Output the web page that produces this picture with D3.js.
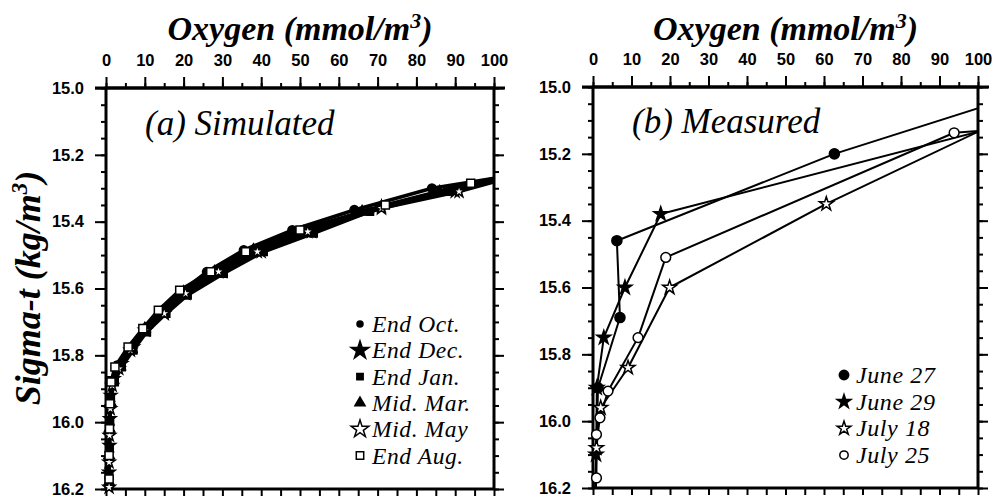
<!DOCTYPE html>
<html>
<head>
<meta charset="utf-8">
<script src="https://cdn.jsdelivr.net/npm/d3@7"></script>
<style>
  html, body { margin: 0; padding: 0; background: #fff; }
  svg { display: block; }
  .serif { font-family: 'Liberation Serif', 'Times New Roman', Times, serif; }
  .sans { font-family: 'Liberation Sans', Arial, Helvetica, sans-serif; }
</style>
</head>
<body>
<div id="chart"></div>
<script>
// ---- data (oxygen mmol/m3, sigma-t kg/m3) ----
const oxygenTicks = [0, 10, 20, 30, 40, 50, 60, 70, 80, 90, 100];
const sigmaTicks = [15.0, 15.2, 15.4, 15.6, 15.8, 16.0, 16.2];

// (a) simulated profiles
const simNames = ['End Oct.', 'End Dec.', 'End Jan.', 'Mid. Mar.', 'Mid. May', 'End Aug.'];
const endOct = [[108, 15.255], [84, 15.30], [64, 15.365], [48, 15.425], [35.5, 15.485], [26, 15.55], [19.3, 15.61], [14, 15.67], [9.8, 15.72], [6, 15.78], [3, 15.83], [1.5, 15.88], [1, 15.95], [0.9, 16.03], [0.8, 16.11], [0.8, 16.19]];
const endDec = [[108, 15.255], [90, 15.31], [71, 15.355], [53, 15.43], [40, 15.49], [30, 15.55], [20.5, 15.615], [15, 15.675], [10.3, 15.725], [7, 15.775], [4, 15.825], [2, 15.87], [1.2, 15.92], [1, 15.99], [0.9, 16.07], [0.8, 16.15]];
const endJan = [[108, 15.258], [88, 15.31], [68, 15.37], [53.5, 15.435], [40.6, 15.49], [30.3, 15.555], [21, 15.62], [15.5, 15.675], [10.5, 15.73], [7, 15.785], [4, 15.835], [2.2, 15.88], [1.2, 15.93], [1, 16.0], [0.9, 16.08], [0.8, 16.16]];
const midMar = [[108, 15.256], [86, 15.31], [66, 15.37], [51, 15.43], [38, 15.485], [28, 15.55], [20, 15.61], [14.5, 15.67], [10, 15.72], [6.5, 15.78], [3.5, 15.83], [1.8, 15.875], [1.1, 15.94], [0.9, 16.02], [0.8, 16.1], [0.8, 16.18]];
const midMay = [[108, 15.255], [91, 15.31], [71, 15.36], [52, 15.43], [39, 15.49], [29, 15.55], [20.5, 15.615], [15, 15.675], [10, 15.725], [6.3, 15.785], [3.3, 15.84], [1.6, 15.89], [1.1, 15.96], [0.9, 16.04], [0.8, 16.12], [0.8, 16.195]];
const endAug = [[108, 15.252], [94, 15.285], [72, 15.35], [50, 15.425], [36, 15.49], [27, 15.55], [19, 15.605], [13.5, 15.665], [9.5, 15.72], [5.7, 15.775], [2.3, 15.835], [1.3, 15.88], [1, 15.945], [0.9, 16.02], [0.8, 16.1], [0.8, 16.17]];

// (b) measured profiles
const measNames = ['June 27', 'June 29', 'July 18', 'July 25'];
const june27 = [[112, 15.02], [62.7, 15.20], [6.2, 15.46], [7.0, 15.69], [1.3, 15.90], [0.6, 16.22]];
const june29 = [[104, 15.122], [17.6, 15.38], [8.3, 15.60], [2.8, 15.75], [1.0, 15.90], [0.8, 16.10], [0.6, 16.22]];
const july18 = [[104, 15.112], [60.6, 15.35], [19.9, 15.60], [9.1, 15.84], [2.0, 15.96], [0.9, 16.08], [0.6, 16.22]];
const july25 = [[104, 15.128], [93.8, 15.137], [18.9, 15.51], [11.7, 15.75], [3.9, 15.91], [1.8, 15.99], [0.9, 16.04], [0.9, 16.17], [0.6, 16.22]];

// ---- styles ----
const simStyle = [
    { type: d3.symbolCircle, size: 60, fill: '#000', lsize: 28 },
    { type: d3.symbolStar, size: 45, fill: '#000', lsize: 100 },
    { type: d3.symbolSquare, size: 55, fill: '#000', lsize: 40 },
    { type: d3.symbolTriangle, size: 50, fill: '#000', lsize: 45 },
    { type: d3.symbolStar, size: 45, fill: '#fff', lsize: 95 },
    { type: d3.symbolSquare, size: 65, fill: '#fff', lsize: 55 }
];
const measStyle = [
    { type: d3.symbolCircle, size: 80, fill: '#000', lsize: 70 },
    { type: d3.symbolStar, size: 60, fill: '#000', lsize: 60 },
    { type: d3.symbolStar, size: 60, fill: '#fff', lsize: 60 },
    { type: d3.symbolCircle, size: 75, fill: '#fff', lsize: 55 }
];

const width = 996;
const height = 499;

const svg = d3.select('#chart').append('svg')
    .attr('width', width)
    .attr('height', height)
    .attr('viewBox', [0, 0, width, height]);

const defs = svg.append('defs');

function drawPanel(box, id, label) {
    const x = d3.scaleLinear().domain([0, 100]).range([box.left, box.right]);
    const y = d3.scaleLinear().domain([15.0, 16.2]).range([box.top, box.bottom]);
    const g = svg.append('g');

    defs.append('clipPath').attr('id', id)
        .append('rect')
        .attr('x', box.left).attr('y', box.top)
        .attr('width', box.right - box.left).attr('height', box.bottom - box.top);

    const style = sel => {
        sel.attr('font-family', null).attr('font-size', null);
        sel.select('.domain').remove();
        sel.selectAll('line').attr('stroke', '#000').attr('stroke-width', 2);
        sel.selectAll('text').attr('class', 'sans').attr('font-weight', 'bold')
            .attr('font-size', 16.5).attr('fill', '#000');
    };

    const minorX = d3.range(0, 21).map(i => i * 5);
    const minorY = d3.range(0, 25).map(i => 15 + i * 0.05);

    // top axis
    g.append('g').attr('transform', `translate(0,${box.top})`)
        .call(d3.axisTop(x).tickValues(minorX).tickSize(5).tickFormat(''))
        .call(style);
    g.append('g').attr('transform', `translate(0,${box.top})`)
        .call(d3.axisTop(x).tickValues(oxygenTicks).tickSize(11).tickPadding(11).tickFormat(d3.format('d')))
        .call(style);
    // bottom axis
    g.append('g').attr('transform', `translate(0,${box.bottom})`)
        .call(d3.axisBottom(x).tickValues(minorX).tickSize(7).tickFormat(''))
        .call(style);
    // left axis
    g.append('g').attr('transform', `translate(${box.left},0)`)
        .call(d3.axisLeft(y).tickValues(minorY).tickSize(5).tickFormat(''))
        .call(style);
    g.append('g').attr('transform', `translate(${box.left},0)`)
        .call(d3.axisLeft(y).tickValues(sigmaTicks).tickSize(11).tickPadding(11).tickFormat(d3.format('.1f')))
        .call(style);
    // right axis
    g.append('g').attr('transform', `translate(${box.right},0)`)
        .call(d3.axisRight(y).tickValues(minorY).tickSize(5).tickFormat(''))
        .call(style);
    g.append('g').attr('transform', `translate(${box.right},0)`)
        .call(d3.axisRight(y).tickValues(sigmaTicks).tickSize(10).tickFormat(''))
        .call(style);

    // frame
    g.append('rect')
        .attr('x', box.left).attr('y', box.top)
        .attr('width', box.right - box.left).attr('height', box.bottom - box.top)
        .attr('fill', 'none').attr('stroke', '#000').attr('stroke-width', 3);
    g.append('line')
        .attr('x1', box.left - 11).attr('x2', box.right + 11)
        .attr('y1', box.top).attr('y2', box.top)
        .attr('stroke', '#000').attr('stroke-width', 3);

    // axis title
    const t = g.append('text')
        .attr('class', 'serif')
        .attr('x', (box.left + box.right) / 2).attr('y', 40)
        .attr('text-anchor', 'middle')
        .attr('font-weight', 'bold').attr('font-style', 'italic')
        .attr('font-size', 34);
    t.append('tspan').text('Oxygen (mmol/m');
    t.append('tspan').attr('dy', -12).attr('font-size', 22).text('3');
    t.append('tspan').attr('dy', 12).text(')');

    // panel label
    g.append('text')
        .attr('class', 'serif')
        .attr('x', label.x).attr('y', label.y)
        .attr('font-style', 'italic').attr('font-size', 35)
        .text(label.text);

    return { x, y, g };
}

function drawSeries(p, id, series, styles, lineWidth) {
    const line = d3.line().x(d => p.x(d[0])).y(d => p.y(d[1]));
    const inside = d => d[0] >= 0 && d[0] <= 100 && d[1] >= 15 && d[1] <= 16.2;

    p.g.append('g').attr('clip-path', `url(#${id})`)
        .selectAll('path')
        .data(series)
        .join('path')
        .attr('d', line)
        .attr('fill', 'none')
        .attr('stroke', '#000')
        .attr('stroke-width', lineWidth)
        .attr('stroke-linejoin', 'round');

    series.forEach((s, i) => {
        const st = styles[i];
        p.g.append('g')
            .selectAll('path')
            .data(s.filter(inside))
            .join('path')
            .attr('d', d3.symbol(st.type, st.size))
            .attr('transform', d => `translate(${p.x(d[0])},${p.y(d[1])})`)
            .attr('fill', st.fill)
            .attr('stroke', '#000')
            .attr('stroke-width', 1.5);
    });
}

function drawLegend(names, styles, lx, ly, step, fs) {
    const g = svg.append('g');
    names.forEach((name, i) => {
        const st = styles[i];
        const yy = ly + i * step;
        g.append('path')
            .attr('d', d3.symbol(st.type, st.lsize))
            .attr('transform', `translate(${lx - 12},${yy - 8})`)
            .attr('fill', st.fill)
            .attr('stroke', '#000')
            .attr('stroke-width', 1.5);
        g.append('text')
            .attr('class', 'serif')
            .attr('x', lx).attr('y', yy)
            .attr('font-style', 'italic').attr('font-size', fs)
            .attr('letter-spacing', 0.6)
            .text(name);
    });
}

// panel (a)
const pa = drawPanel({ left: 106, right: 494, top: 88, bottom: 489 }, 'clipA',
    { x: 145, y: 135, text: '(a) Simulated' });
drawSeries(pa, 'clipA', [endOct, endDec, endJan, midMar, midMay, endAug], simStyle, 3.5);
drawLegend(simNames, simStyle, 372, 332, 26.3, 23.5);

// y title
svg.append('text')
    .attr('class', 'serif')
    .attr('transform', 'translate(40,288) rotate(-90)')
    .attr('text-anchor', 'middle')
    .attr('font-weight', 'bold').attr('font-style', 'italic')
    .attr('font-size', 36)
    .call(t => {
        t.append('tspan').text('Sigma-t (kg/m');
        t.append('tspan').attr('dy', -13).attr('font-size', 23).text('3');
        t.append('tspan').attr('dy', 13).text(')');
    });

// panel (b)
const pb = drawPanel({ left: 593, right: 978, top: 87, bottom: 488 }, 'clipB',
    { x: 632, y: 133, text: '(b) Measured' });
drawSeries(pb, 'clipB', [june27, june29, july18, july25], measStyle, 2);
drawLegend(measNames, measStyle, 856, 383, 26.7, 24);
</script>
</body>
</html>
